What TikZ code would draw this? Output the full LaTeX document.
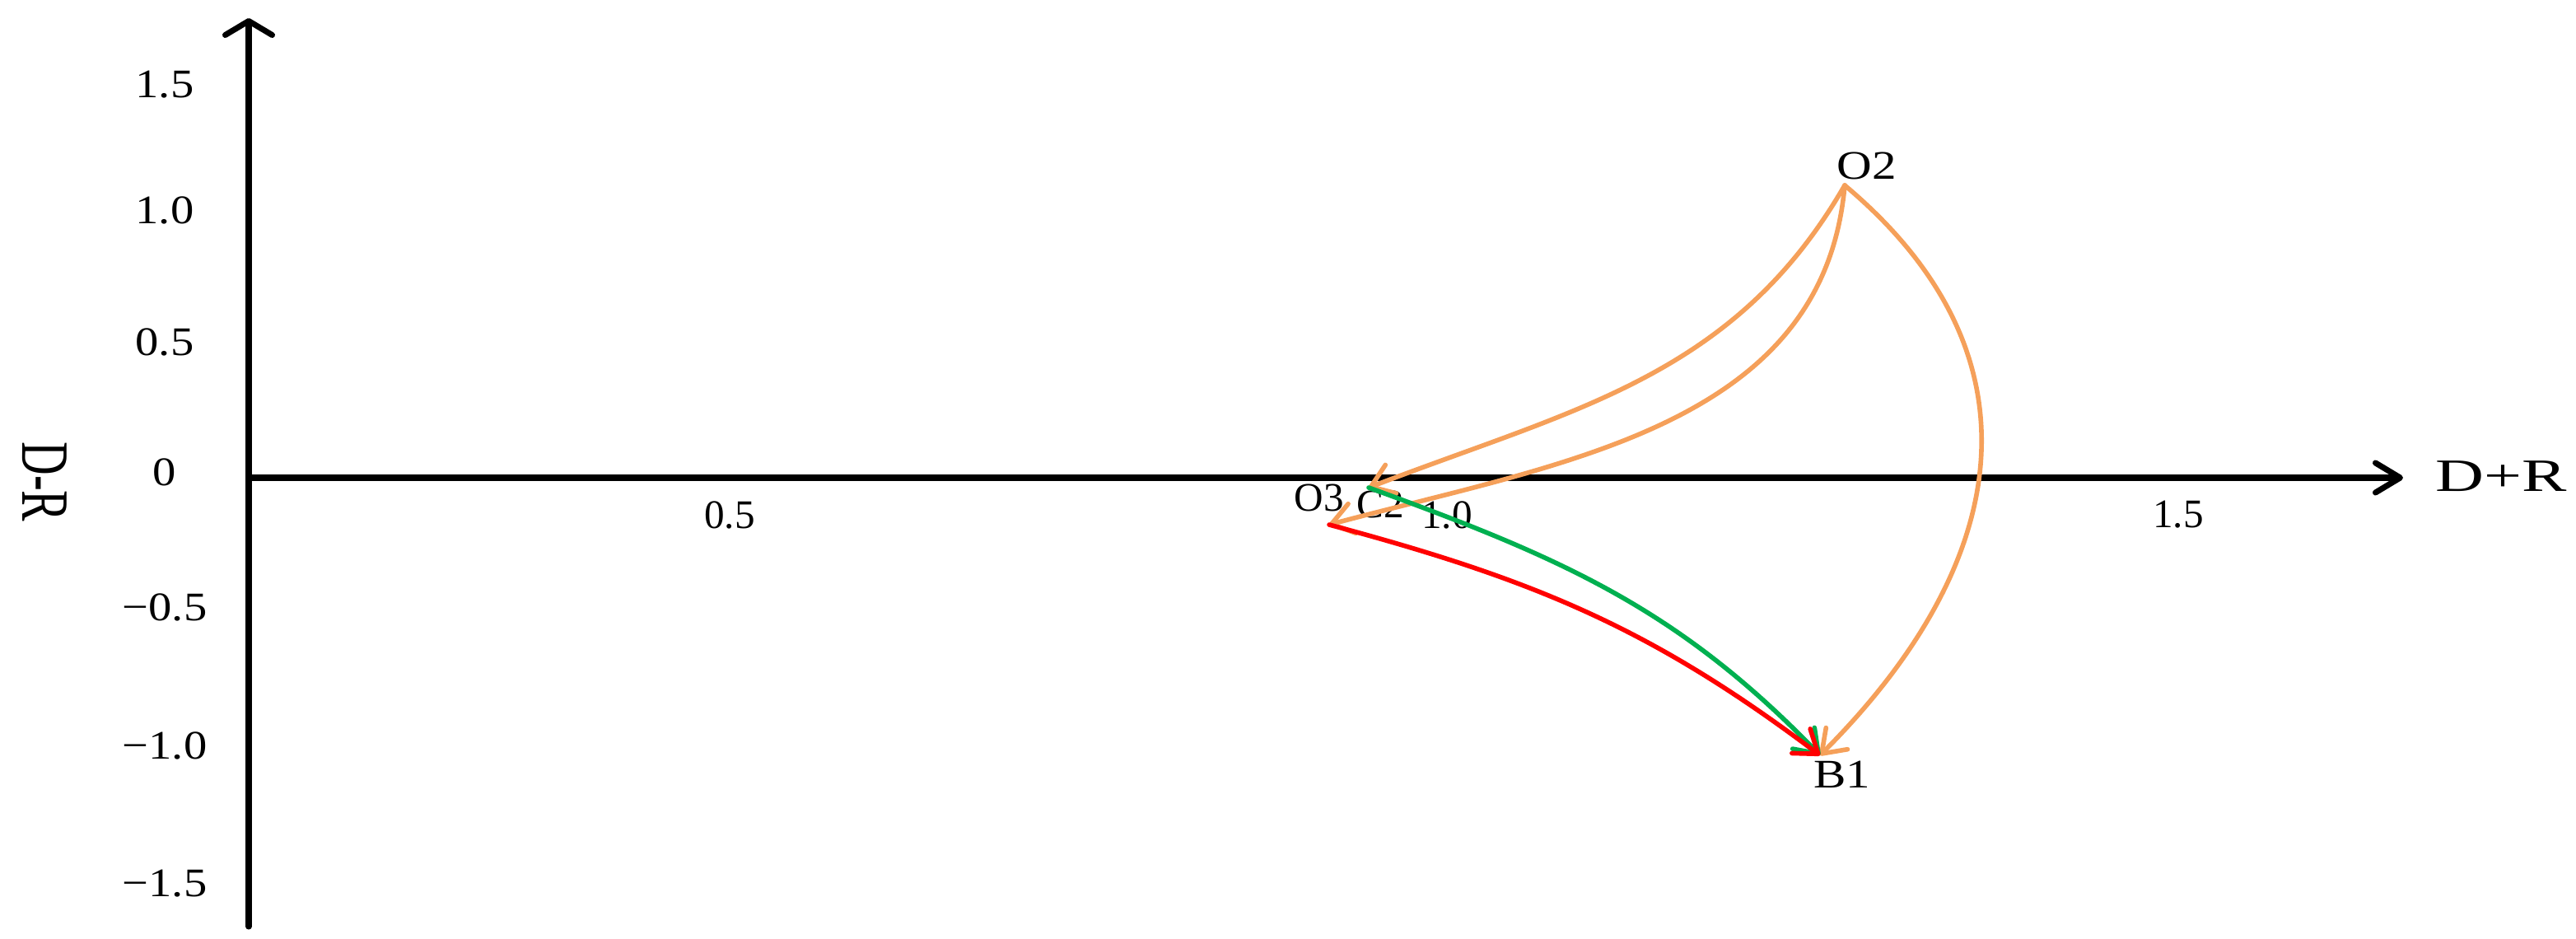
\documentclass[tikz,border=0pt]{standalone}
\usepackage{fontspec}
\setmainfont{Liberation Serif}
\usetikzlibrary{arrows.meta}

\definecolor{orangeline}{HTML}{F5A05A}
\definecolor{greenline}{HTML}{00B050}
\definecolor{redline}{HTML}{FF0000}

\begin{document}
\begin{tikzpicture}[
  axis/.style={line width=2pt, line cap=round},
  move/.style={line width=1.6pt, line cap=round, ->, >={Straight Barb[length=2.6mm,width=3.7mm,round]}},
  lbl/.style={font=\fontsize{14pt}{16pt}\selectfont, inner sep=0pt},
  ytick/.style={lbl, xscale=1.15},
  xtick/.style={lbl}
]
\useasboundingbox (0,0) rectangle (31.28,11.39);

% axes
\coordinate (origin) at (3.02,5.59);
\coordinate (xend) at (29.18,5.59);
\coordinate (ytop) at (3.02,11.17);
\coordinate (ybot) at (3.02,0.14);
\draw[axis, -{Straight Barb[length=3mm,width=3.6mm,round]}] (origin) -- (xend);
\draw[axis, -{Straight Barb[length=1.7mm,width=5.7mm,round]}] (ybot) -- (ytop);

\node[lbl, font=\fontsize{16pt}{18pt}\selectfont, xscale=1.45] (xlabel) at (30.37,5.61) {D+R};
\node[lbl, font=\fontsize{16pt}{18pt}\selectfont, rotate=-90] (ylabel) at (0.54,5.54) {\scalebox{1}[1.46]{D-R}};

\foreach \v/\y [count=\i] in {1.5/10.36, 1.0/8.84, 0.5/7.24, 0/5.66, −0.5/4.02, −1.0/2.34, −1.5/0.66}
  \node[ytick] (ytick\i) at (2.00,\y) {\v};
\foreach \v/\x [count=\i] in {0.5/8.86, 1.0/17.57, 1.5/26.45}
  \node[xtick] (xtick\i) at (\x,5.14) {\v};

% points
\coordinate (O2) at (22.40,9.14);
\coordinate (C2) at (16.62,5.47);
\coordinate (O3) at (16.14,5.02);
\coordinate (B1) at (22.10,2.22);

\node[lbl, xscale=1.2] (lblO2) at (22.67,9.38) {O2};
\node[lbl] (lblO3) at (16.02,5.35) {O3};
\node[lbl] (lblC2) at (16.76,5.27) {C2};
\node[lbl, xscale=1.2] (lblB1) at (22.37,1.99) {B1};

% moves
\draw[move, orangeline] (O2) to[out=240, in=21] (C2);
\draw[move, orangeline] (O2) to[out=265, in=15] (O3);
\draw[move, orangeline] (O2) to[out=-40, in=45, looseness=1.2] (B1);
\draw[move, greenline] (C2) to[out=-20, in=134] (B1);
\draw[move, redline] (O3) to[out=-15, in=143] (B1);
\end{tikzpicture}
\end{document}
